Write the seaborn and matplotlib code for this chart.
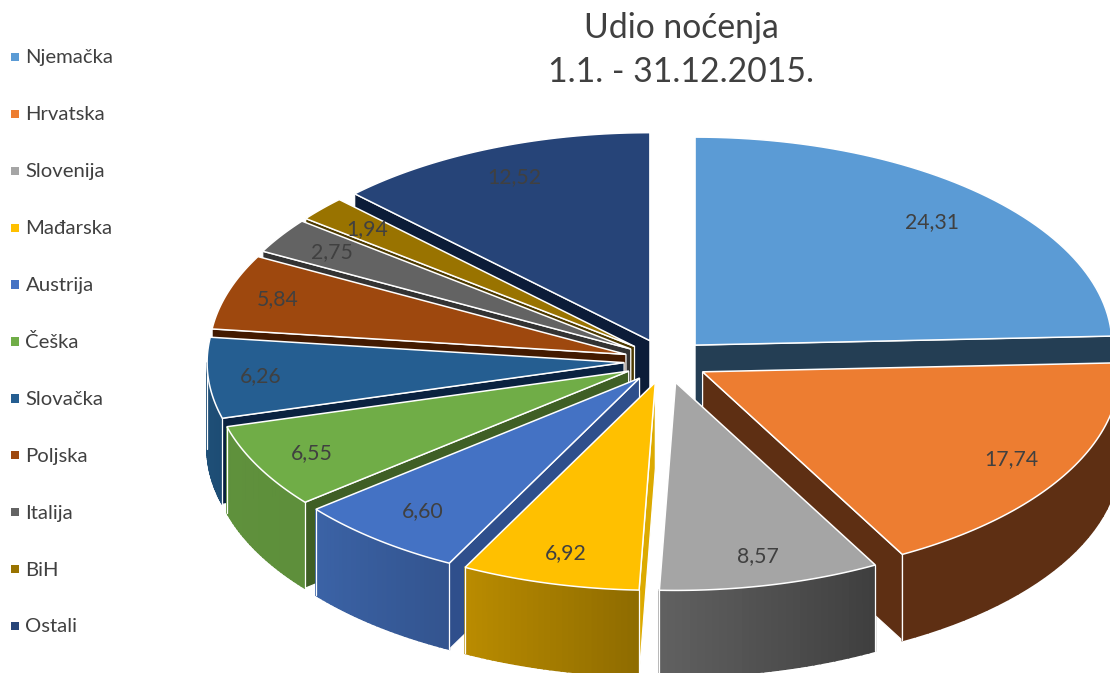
import numpy as np
import pandas as pd
import seaborn as sns
import matplotlib.pyplot as plt

countries = ['Njemačka', 'Hrvatska', 'Slovenija', 'Mađarska', 'Austrija', 'Češka',
             'Slovačka', 'Poljska', 'Italija', 'BiH', 'Ostali']
shares = [24.31, 17.74, 8.57, 6.92, 6.60, 6.55, 6.26, 5.84, 2.75, 1.94, 12.52]

top_colors = ['#5b9bd5', '#ed7d31', '#a5a5a5', '#ffc000', '#4472c4', '#70ad47',
              '#255e91', '#9e480e', '#636363', '#997300', '#264478']
cut_colors = ['#243e54', '#5e2f13', '#3f3f3f', '#dcaa00', '#2f4f8c', '#3f5f25',
              '#0a2240', '#431a00', '#333333', '#4d3a00', '#0c1c38']
wall_right = ['#243e54', '#5e2f13', '#3f3f3f', '#8f6c00', '#33548f', '#5e8f3b',
              '#1d4c74', '#5e2f13', '#3f3f3f', '#5c4500', '#16284a']
wall_left = ['#243e54', '#5e2f13', '#606060', '#b98b00', '#3b63a6', '#5f913c',
             '#1f5078', '#5e2f13', '#3f3f3f', '#5c4500', '#16284a']
label_radius = [0.82, 0.85, 0.86, 0.85, 0.825, 0.855, 0.875, 0.875, 0.855, 0.855, 0.85]

# pie geometry in image pixels
cx, cy = 666, 361
rx, ry = 417, 208
ex, ey = 42, 22
depth = 86

sns.set_theme(style='white')
plt.rcParams['font.family'] = ['Lato', 'DejaVu Sans']

fig = plt.figure(figsize=(11.1, 6.73), dpi=100)
ax = fig.add_axes([0, 0, 1, 1])
ax.set_xlim(0, 1110)
ax.set_ylim(673, 0)
ax.axis('off')

edges = np.concatenate([[0], np.cumsum(shares)]) / np.sum(shares) * 2 * np.pi


def arc(ox, oy, a0, a1, n=60):
    t = np.linspace(a0, a1, n)
    return ox + rx * np.sin(t), oy - ry * np.cos(t)


def mix(c0, c1, f):
    return tuple((1 - f) * np.array(sns.color_palette([c0])[0]) + f * np.array(sns.color_palette([c1])[0]))


mids = (edges[:-1] + edges[1:]) / 2
order = np.argsort(-np.cos(mids))

z = 1
for i in order:
    a0, a1, mid = edges[i], edges[i + 1], mids[i]
    ox = cx + ex * np.sin(mid)
    oy = cy - ey * np.cos(mid)
    qx, qy = arc(ox, oy, mid, mid, 1)

    # cut faces, only those turned towards the viewer
    for a in (a0, a1):
        px, py = arc(ox, oy, a, a, 1)
        px, py = px[0], py[0]
        if abs(px - ox) < 1:
            continue
        if qy[0] < oy + (py - oy) * (qx[0] - ox) / (px - ox):
            fx = [ox, px, px, ox]
            fy = [oy, py, py + depth, oy + depth]
            ax.fill(fx, fy, facecolor=cut_colors[i], edgecolor='white', lw=0.9, zorder=z)
            z += 1

    # outer wall on the front half
    w0, w1 = max(a0, np.pi / 2), min(a1, 3 * np.pi / 2)
    if w1 > w0:
        steps = np.linspace(w0, w1, 31)
        for k in range(30):
            xs, ys = arc(ox, oy, steps[k], steps[k + 1], 4)
            ax.fill(np.r_[xs, xs[::-1]], np.r_[ys, ys[::-1] + depth],
                    color=mix(wall_right[i], wall_left[i], k / 29), lw=1.2, zorder=z)
        z += 1
        xs, ys = arc(ox, oy, w0, w1)
        ax.plot(np.r_[xs[0], xs[0]], np.r_[ys[0], ys[0] + depth], color='white', lw=0.9, zorder=z)
        ax.plot(np.r_[xs[-1], xs[-1]], np.r_[ys[-1], ys[-1] + depth], color='white', lw=0.9, zorder=z)
        z += 1

    # top of the slice
    xs, ys = arc(ox, oy, a0, a1)
    ax.fill(np.r_[ox, xs], np.r_[oy, ys], facecolor=top_colors[i], edgecolor='white', lw=1.1, zorder=z)
    z += 1

for i in range(len(shares)):
    ox = cx + ex * np.sin(mids[i])
    oy = cy - ey * np.cos(mids[i])
    f = label_radius[i]
    ax.text(ox + f * rx * np.sin(mids[i]), oy - f * ry * np.cos(mids[i]),
            f'{shares[i]:.2f}'.replace('.', ','), ha='center', va='center',
            fontsize=15.3, color='#404040', zorder=z + 1)

# legend on the left
legend = pd.DataFrame({'x': 15, 'y': 57 + 56.9 * np.arange(len(countries)), 'country': countries})
sns.scatterplot(data=legend, x='x', y='y', hue='country', palette=top_colors, marker='s',
                s=36, linewidth=0, legend=False, ax=ax)
for _, row in legend.iterrows():
    ax.text(25.5, row['y'] + 1, row['country'], ha='left', va='center', fontsize=14.6, color='#404040')
ax.axis('off')
ax.set_xlim(0, 1110)
ax.set_ylim(673, 0)

ax.text(681, 28, 'Udio noćenja', ha='center', va='center', fontsize=24.3, color='#404040')
ax.text(681, 72, '1.1. - 31.12.2015.', ha='center', va='center', fontsize=24.3, color='#404040')

fig.savefig('out.png', dpi=100)
